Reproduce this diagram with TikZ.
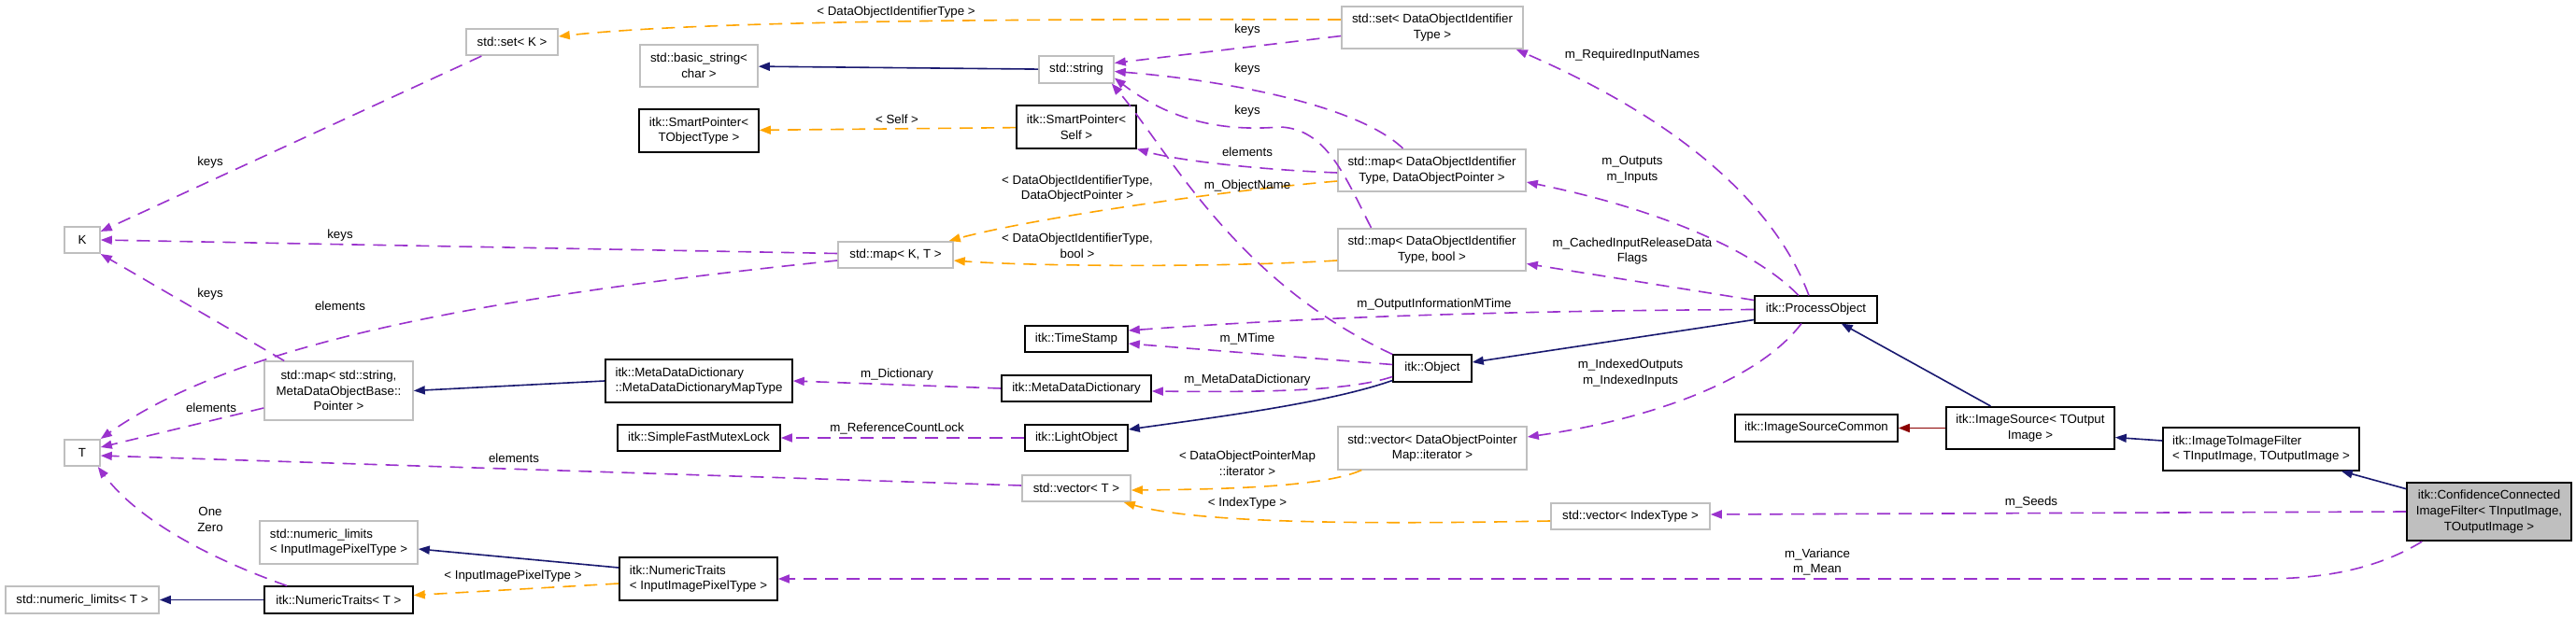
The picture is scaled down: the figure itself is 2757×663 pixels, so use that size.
\documentclass[tikz,border=0pt]{standalone}
\usepackage{fontspec}
\setmainfont{Liberation Sans}
\usetikzlibrary{%
	calc,%
	arrows.meta,%
}
\tikzset{
	>={Triangle[length=6pt,width=4.5pt]},%
	nodes={align=center},%
	docnode/.style={%
			draw=black,%
			rectangle,%
			line width=0.8pt,%
			inner sep=0pt,%
			fill=white},%
	extnode/.style={%
			draw=cgrey,%
			rectangle,%
			line width=0.8pt,%
			inner sep=0pt,%
			fill=white},%
	focusnode/.style={%
			draw=black,%
			rectangle,%
			line width=0.8pt,%
			inner sep=0pt,%
			fill=cgrey},%
	oneline/.style={minimum height=14.25pt},%
	twoline/.style={minimum height=22.75pt},%
	threeline/.style={minimum height=31.25pt},%
	edgelabel/.style={inner sep=0pt},%
	usage/.style={%
			->,%
			cpurple,%
			line width=0.8pt,%
			dash pattern=on 7pt off 4.5pt},%
	templ/.style={%
			->,%
			corange,%
			line width=0.8pt,%
			dash pattern=on 7pt off 4.5pt},%
	inherit/.style={->, cnavy, line width=0.8pt},%
	protinherit/.style={->, cdarkred, line width=0.8pt},%
}
\definecolor{cpurple}{RGB}{154, 50, 205}
\definecolor{corange}{RGB}{255, 165, 0}
\definecolor{cnavy}{RGB}{25, 25, 112}
\definecolor{cdarkred}{RGB}{139, 0, 0}
\definecolor{cgrey}{RGB}{191, 191, 191}
\newcommand{\diagfont}{\fontsize{6.65}{8.35}\selectfont}

\begin{document}
\begin{tikzpicture}[x=0.5pt, y=-0.5pt, nodes={font=\diagfont}]
	\path[use as bounding box, fill=white] (0,0) rectangle (2757,663);

	\node[extnode, oneline, minimum width=19pt] (K) at (88,257) {K};
	\node[extnode, oneline, minimum width=19pt] (T) at (88,485) {T};
	\node[extnode, oneline, minimum width=82pt] (nlT) at (88,642.5) {std::numeric\_limits< T >};

	\node[extnode, oneline, minimum width=49pt] (setK) at (548,45) {std::set< K >};
	\node[extnode, threeline, minimum width=79.5pt] (mapstr) at (362.5,418.5) {std::map< std::string,\\MetaDataObjectBase::\\Pointer >};
	\node[extnode, twoline, minimum width=84.5pt, align=left] (nlIIPT) at (362.5,581) {std::numeric\_limits\\< InputImagePixelType >};
	\node[docnode, oneline, minimum width=79.5pt] (ntT) at (362.5,642.5) {itk::NumericTraits< T >};

	\node[extnode, twoline, minimum width=63pt] (basicstr) at (748,70.5) {std::basic\_string<\\char >};
	\node[docnode, twoline, minimum width=64pt] (sptrT) at (748,140) {itk::SmartPointer<\\TObjectType >};
	\node[docnode, twoline, minimum width=100pt, align=left] (mddmt) at (748,408) {itk::MetaDataDictionary\\::MetaDataDictionaryMapType};
	\node[docnode, oneline, minimum width=87pt] (sfml) at (748,469) {itk::SimpleFastMutexLock};
	\node[docnode, twoline, minimum width=84.5pt, align=left] (ntIIPT) at (747.5,620) {itk::NumericTraits\\< InputImagePixelType >};

	\node[extnode, oneline, minimum width=61.5pt] (mapKT) at (958.5,273) {std::map< K, T >};

	\node[extnode, oneline, minimum width=40pt] (str) at (1152,74.5) {std::string};
	\node[docnode, twoline, minimum width=64pt] (sptrSelf) at (1152,136) {itk::SmartPointer<\\Self >};
	\node[docnode, oneline, minimum width=55pt] (tstamp) at (1152,363) {itk::TimeStamp};
	\node[docnode, oneline, minimum width=80pt] (mdd) at (1152,416) {itk::MetaDataDictionary};
	\node[docnode, oneline, minimum width=55pt] (lobj) at (1152,469) {itk::LightObject};
	\node[extnode, oneline, minimum width=58pt] (vecT) at (1152,523) {std::vector< T >};

	\node[extnode, twoline, minimum width=97pt] (setDOIT) at (1533,29.5) {std::set< DataObjectIdentifier\\Type >};
	\node[extnode, twoline, minimum width=100.5pt] (mapDOP) at (1532.5,182.5) {std::map< DataObjectIdentifier\\Type, DataObjectPointer >};
	\node[extnode, twoline, minimum width=100.5pt] (mapBool) at (1532.5,267.5) {std::map< DataObjectIdentifier\\Type, bool >};
	\node[docnode, oneline, minimum width=42pt] (obj) at (1533,394.5) {itk::Object};
	\node[extnode, twoline, minimum width=101pt] (vecDOPM) at (1533,480) {std::vector< DataObjectPointer\\Map::iterator >};

	\node[extnode, oneline, minimum width=85pt] (vecIdx) at (1745,553) {std::vector< IndexType >};

	\node[docnode, oneline, minimum width=65.5pt] (procobj) at (1943.5,331.5) {itk::ProcessObject};
	\node[docnode, oneline, minimum width=87pt] (isc) at (1944,458.5) {itk::ImageSourceCommon};

	\node[docnode, twoline, minimum width=90pt] (isrc) at (2173,458.5) {itk::ImageSource< TOutput\\Image >};
	\node[docnode, twoline, minimum width=105pt, align=left] (itif) at (2420,481) {itk::ImageToImageFilter\\< TInputImage, TOutputImage >};
	\node[focusnode, threeline, minimum width=88pt] (ccf) at (2664,548) {itk::ConfidenceConnected\\ImageFilter< TInputImage,\\TOutputImage >};

	\draw[usage] (setK) -- (K);
	\draw[usage] ($(mapKT.west)+(0,-1.5)$) -- (K.east);
	\draw[usage] ($(mapstr.north west)+(22,0)$) -- (K.south east);
	\draw[usage] ($(mapKT.west)+(0,6)$) .. controls (500,320) and (250,370) .. (T.north east);
	\draw[usage] ($(mapstr.west)+(0,18.5)$) -- ($(T.east)+(0,-6)$);
	\draw[usage] ($(vecT.west)+(0,-3)$) -- ($(T.east)+(0,3)$);
	\draw[usage] ($(ntT.north west)+(25,0)$) .. controls (230,600) and (150,560) .. ($(T.south east)+(-3,0)$);
	\draw[usage] ($(setDOIT.west)+(0,9)$) -- ($(str.east)+(0,-7)$);
	\draw[usage] ($(mapDOP.north)+(-31,0)$) .. controls (1450,110) and (1300,85) .. ($(str.east)+(0,2)$);
	\draw[usage] ($(mapBool.north)+(-65,0)$) .. controls (1440,190) and (1420,138) .. (1370,136) .. controls (1320,140) and (1260,135) .. ($(str.east)+(0,9)$);
	\draw[usage] ($(mapDOP.west)+(0,2.5)$) .. controls (1350,182) and (1260,172) .. (sptrSelf.south east);
	\draw[usage] (obj.north west) .. controls (1320,300) and (1250,160) .. ($(str.south east)+(-3,0)$);
	\draw[usage] ($(procobj.north)+(-7.5,0)$) .. controls (1900,220) and (1800,130) .. ($(setDOIT.south east)+(-8,0)$);
	\draw[usage] ($(procobj.north)+(-18.5,0)$) .. controls (1880,270) and (1780,225) .. ($(mapDOP.east)+(0,12.5)$);
	\draw[usage] ($(procobj.west)+(0,-10)$) -- ($(mapBool.east)+(0,15)$);
	\draw[usage] (procobj.west) .. controls (1600,333) and (1400,340) .. ($(tstamp.east)+(0,-9)$);
	\draw[usage] ($(obj.west)+(0,-4)$) -- ($(tstamp.east)+(0,5)$);
	\draw[usage] ($(obj.west)+(0,9)$) .. controls (1440,420) and (1340,420) .. ($(mdd.east)+(0,3)$);
	\draw[usage] (mdd.west) -- (mddmt.east);
	\draw[usage] (lobj) -- (sfml);
	\draw[usage] ($(procobj.south)+(-15.5,0)$) .. controls (1880,410) and (1760,450) .. ($(vecDOPM.east)+(0,-12)$);
	\draw[usage] (ccf.west) -- ($(vecIdx.east)+(0,-2)$);
	\draw[usage] ($(ccf.south west)+(17,0)$) .. controls (2540,612) and (2480,620) .. (2420,620) -- (ntIIPT.east);

	\draw[templ] ($(setDOIT.west)+(0,-8.5)$) .. controls (1100,20) and (750,22) .. ($(setK.east)+(0,-6)$);
	\draw[templ] (sptrSelf) -- (sptrT);
	\draw[templ] ($(mapDOP.west)+(0,11.5)$) .. controls (1300,205) and (1100,235) .. ($(mapKT.north east)+(-5,0)$);
	\draw[templ] ($(mapBool.west)+(0,11.5)$) .. controls (1300,287) and (1100,285) .. ($(mapKT.east)+(0,6)$);
	\draw[templ] ($(vecDOPM.south west)+(26,0)$) .. controls (1420,520) and (1330,524) .. ($(vecT.east)+(0,2)$);
	\draw[templ] ($(vecIdx.west)+(0,5)$) .. controls (1450,562) and (1280,560) .. ($(vecT.south east)+(-8,0)$);
	\draw[templ] ($(ntIIPT.west)+(0,5)$) -- ($(ntT.east)+(0,-5)$);

	\draw[inherit] (str) -- (basicstr);
	\draw[inherit] ($(procobj.west)+(0,11)$) -- ($(obj.east)+(0,-6.5)$);
	\draw[inherit] ($(obj.south west)+(0,-2)$) .. controls (1420,432) and (1300,447) .. ($(lobj.east)+(0,-9)$);
	\draw[inherit] (mddmt.west) -- (mapstr.east);
	\draw[inherit] ($(ntIIPT.west)+(0,-12)$) -- ($(nlIIPT.east)+(0,7)$);
	\draw[inherit] (ntT) -- (nlT);
	\draw[inherit] (isrc) -- (procobj);
	\draw[inherit] ($(itif.west)+(0,-9)$) -- ($(isrc.east)+(0,10)$);
	\draw[inherit] (ccf) -- (itif);
	\draw[protinherit] (isrc) -- (isc);

	\node[edgelabel] (lsetk) at (225,174) {keys};
	\node[edgelabel] (lmapkt) at (364,252) {keys};
	\node[edgelabel] (lmapstr) at (225,315) {keys};
	\node[edgelabel] (lmapktel) at (364,328) {elements};
	\node[edgelabel] (lmapstrel) at (226,437) {elements};
	\node[edgelabel] (lvectel) at (550,491) {elements};
	\node[edgelabel] (lntt) at (225,556.5) {One\\Zero};
	\node[edgelabel] (lsetdoit) at (1335,32) {keys};
	\node[edgelabel] (lmapdop) at (1335,74) {keys};
	\node[edgelabel] (lmapbool) at (1335,119) {keys};
	\node[edgelabel] (lmapdopel) at (1335,163) {elements};
	\node[edgelabel] (lobjname) at (1335,199) {m\_ObjectName};
	\node[edgelabel] (lreqin) at (1747,59) {m\_RequiredInputNames};
	\node[edgelabel] (lout) at (1747,182) {m\_Outputs\\m\_Inputs};
	\node[edgelabel] (lcached) at (1747,269) {m\_CachedInputReleaseData\\Flags};
	\node[edgelabel] (loutmtime) at (1535,326) {m\_OutputInformationMTime};
	\node[edgelabel] (lmtime) at (1335,363) {m\_MTime};
	\node[edgelabel] (lmdd) at (1335,407) {m\_MetaDataDictionary};
	\node[edgelabel] (ldict) at (960,401) {m\_Dictionary};
	\node[edgelabel] (lrefl) at (960,459) {m\_ReferenceCountLock};
	\node[edgelabel] (lidx) at (1745,399.5) {m\_IndexedOutputs\\m\_IndexedInputs};
	\node[edgelabel] (lseeds) at (2174,538) {m\_Seeds};
	\node[edgelabel] (lvar) at (1945,602) {m\_Variance\\m\_Mean};
	\node[edgelabel] (ltsetk) at (959,13) {< DataObjectIdentifierType >};
	\node[edgelabel] (ltself) at (960,128) {< Self >};
	\node[edgelabel] (ltmapdop) at (1153,202) {< DataObjectIdentifierType,\\DataObjectPointer >};
	\node[edgelabel] (ltmapbool) at (1153,263.5) {< DataObjectIdentifierType,\\bool >};
	\node[edgelabel] (ltvecdopm) at (1335,496) {< DataObjectPointerMap\\::iterator >};
	\node[edgelabel] (ltvecidx) at (1335,539) {< IndexType >};
	\node[edgelabel] (ltnt) at (549,617) {< InputImagePixelType >};
\end{tikzpicture}
\end{document}
